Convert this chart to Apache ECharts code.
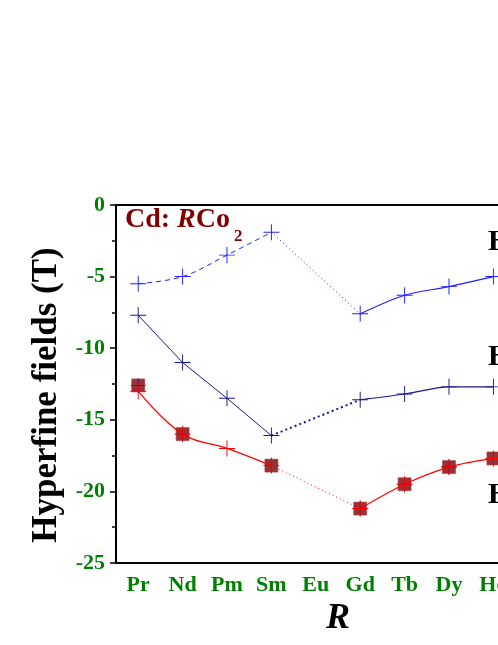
<!DOCTYPE html>
<html>
<head>
<meta charset="utf-8">
<script src="https://cdn.jsdelivr.net/npm/echarts@6/dist/echarts.min.js"></script>
<style>
html,body{margin:0;padding:0;background:#fff}
#main{width:498px;height:645px}
</style>
</head>
<body>
<div id="main"></div>
<script>
var elements = ['Pr', 'Nd', 'Pm', 'Sm', 'Eu', 'Gd', 'Tb', 'Dy', 'Ho', 'Er'];
// three calculated branches + measured (squares)
var fieldTop = [-5.5, -5.0, -3.5, -1.9, null, -7.6, -6.3, -5.7, -5.0, null];
var fieldMid = [-7.7, -11.0, -13.5, -16.1, null, -13.6, -13.2, -12.7, -12.7, null];
var fieldLow = [-13.0, -16.0, -17.0, -18.2, null, -21.2, -19.5, -18.3, -17.7, null];
var fieldExp = [-12.6, -16.0, null, -18.2, null, -21.2, -19.5, -18.3, -17.7, null];
var sideLabels = ['H', 'H', 'H'];

var FONT = 'Liberation Serif';
var GREEN = '#008000';
var plus = 'path://M0,9.4H20V10.6H0Z M9.4,0H10.6V20H9.4Z';

function part(arr, from, to) {
    return arr.map(function (v, i) { return (i >= from && i <= to) ? v : null; });
}

function seg(arr, from, to, color, type, width, smooth, withSymbol) {
    return {
        type: 'line',
        data: part(arr, from, to),
        connectNulls: true,
        smooth: smooth,
        symbol: withSymbol ? plus : 'none',
        symbolSize: 16,
        itemStyle: {color: color},
        lineStyle: {color: color, type: type, width: width}
    };
}

var chart = echarts.init(document.getElementById('main'));

var option = {
    animation: false,
    grid: {left: 116, top: 205, width: 444, height: 358, outerBoundsMode: 'none', containLabel: false},
    xAxis: [{
        type: 'category',
        data: elements,
        boundaryGap: true,
        axisLine: {onZero: false, lineStyle: {color: '#000', width: 2}},
        axisTick: {alignWithLabel: true, interval: 0, length: 6, lineStyle: {color: '#000', width: 1.5}},
        axisLabel: {interval: 0, color: GREEN, fontFamily: FONT, fontWeight: 'bold', fontSize: 22, margin: 11},
        name: 'R',
        nameLocation: 'middle',
        nameGap: 36,
        nameTextStyle: {color: '#000', fontFamily: FONT, fontWeight: 'bold', fontStyle: 'italic', fontSize: 36}
    }, {
        type: 'category',
        data: elements,
        position: 'bottom',
        axisLine: {show: false},
        axisTick: {interval: 0, length: 3, lineStyle: {color: '#000', width: 1.5}},
        axisLabel: {show: false}
    }, {
        type: 'category',
        data: elements,
        position: 'top',
        axisLine: {lineStyle: {color: '#000', width: 2}},
        axisTick: {show: false},
        axisLabel: {show: false}
    }],
    yAxis: {
        type: 'value',
        min: -25,
        max: 0,
        interval: 5,
        axisLine: {show: true, lineStyle: {color: '#000', width: 2}},
        axisTick: {show: true, length: 6, lineStyle: {color: '#000', width: 1.5}},
        minorTick: {show: true, splitNumber: 2, length: 4, lineStyle: {color: '#000', width: 1.5}},
        splitLine: {show: false},
        axisLabel: {color: GREEN, fontFamily: FONT, fontWeight: 'bold', fontSize: 22, margin: 11},
        name: 'Hyperfine fields (T)',
        nameLocation: 'middle',
        nameGap: 44,
        nameTextStyle: {color: '#000', fontFamily: FONT, fontWeight: 'bold', fontSize: 35, padding: [0, 22, 0, 0]}
    },
    series: [
        seg(fieldTop, 0, 3, '#1f1fff', [5, 4], 1, 0.35, true),
        seg(fieldTop, 3, 5, '#1f1fff', [1, 3], 1, false, false),
        seg(fieldTop, 5, 8, '#1f1fff', 'solid', 1.2, 0.3, true),

        seg(fieldMid, 0, 3, '#1a1a90', 'solid', 1, false, true),
        seg(fieldMid, 3, 5, '#1a1a90', [2, 3], 2, false, false),
        seg(fieldMid, 5, 8, '#1a1a90', 'solid', 1.2, 0.3, true),

        seg(fieldLow, 0, 3, '#ff0000', 'solid', 1.2, 0.4, true),
        seg(fieldLow, 3, 5, '#ff0000', [1, 3], 1, false, false),
        seg(fieldLow, 5, 8, '#ff0000', 'solid', 1.2, 0.3, true),

        {
            type: 'scatter',
            data: fieldExp,
            symbol: 'rect',
            symbolSize: 13,
            itemStyle: {color: '#800000', borderColor: 'rgba(170,60,60,0.7)', borderWidth: 1}
        },
        {
            type: 'scatter',
            data: fieldExp,
            symbol: plus,
            symbolSize: 15,
            itemStyle: {color: '#1a1a90'}
        }
    ],
    graphic: [
        {
            type: 'text', left: 125, top: 206,
            style: {
                text: '{a|Cd: }{b|R}{a|Co}',
                rich: {
                    a: {fontFamily: FONT, fontWeight: 'bold', fontSize: 28, fill: '#800000'},
                    b: {fontFamily: FONT, fontWeight: 'bold', fontStyle: 'italic', fontSize: 28, fill: '#800000'}
                }
            }
        },
        {
            type: 'text', left: 234, top: 228,
            style: {text: '2', fontFamily: FONT, fontWeight: 'bold', fontSize: 17, fill: '#800000'}
        },
        {
            type: 'text', left: 488, top: 227,
            style: {text: sideLabels[0], fontFamily: FONT, fontWeight: 'bold', fontSize: 30, fill: '#000'}
        },
        {
            type: 'text', left: 488, top: 342,
            style: {text: sideLabels[1], fontFamily: FONT, fontWeight: 'bold', fontSize: 30, fill: '#000'}
        },
        {
            type: 'text', left: 488, top: 480,
            style: {text: sideLabels[2], fontFamily: FONT, fontWeight: 'bold', fontSize: 30, fill: '#000'}
        }
    ]
};

chart.setOption(option);
</script>
</body>
</html>
